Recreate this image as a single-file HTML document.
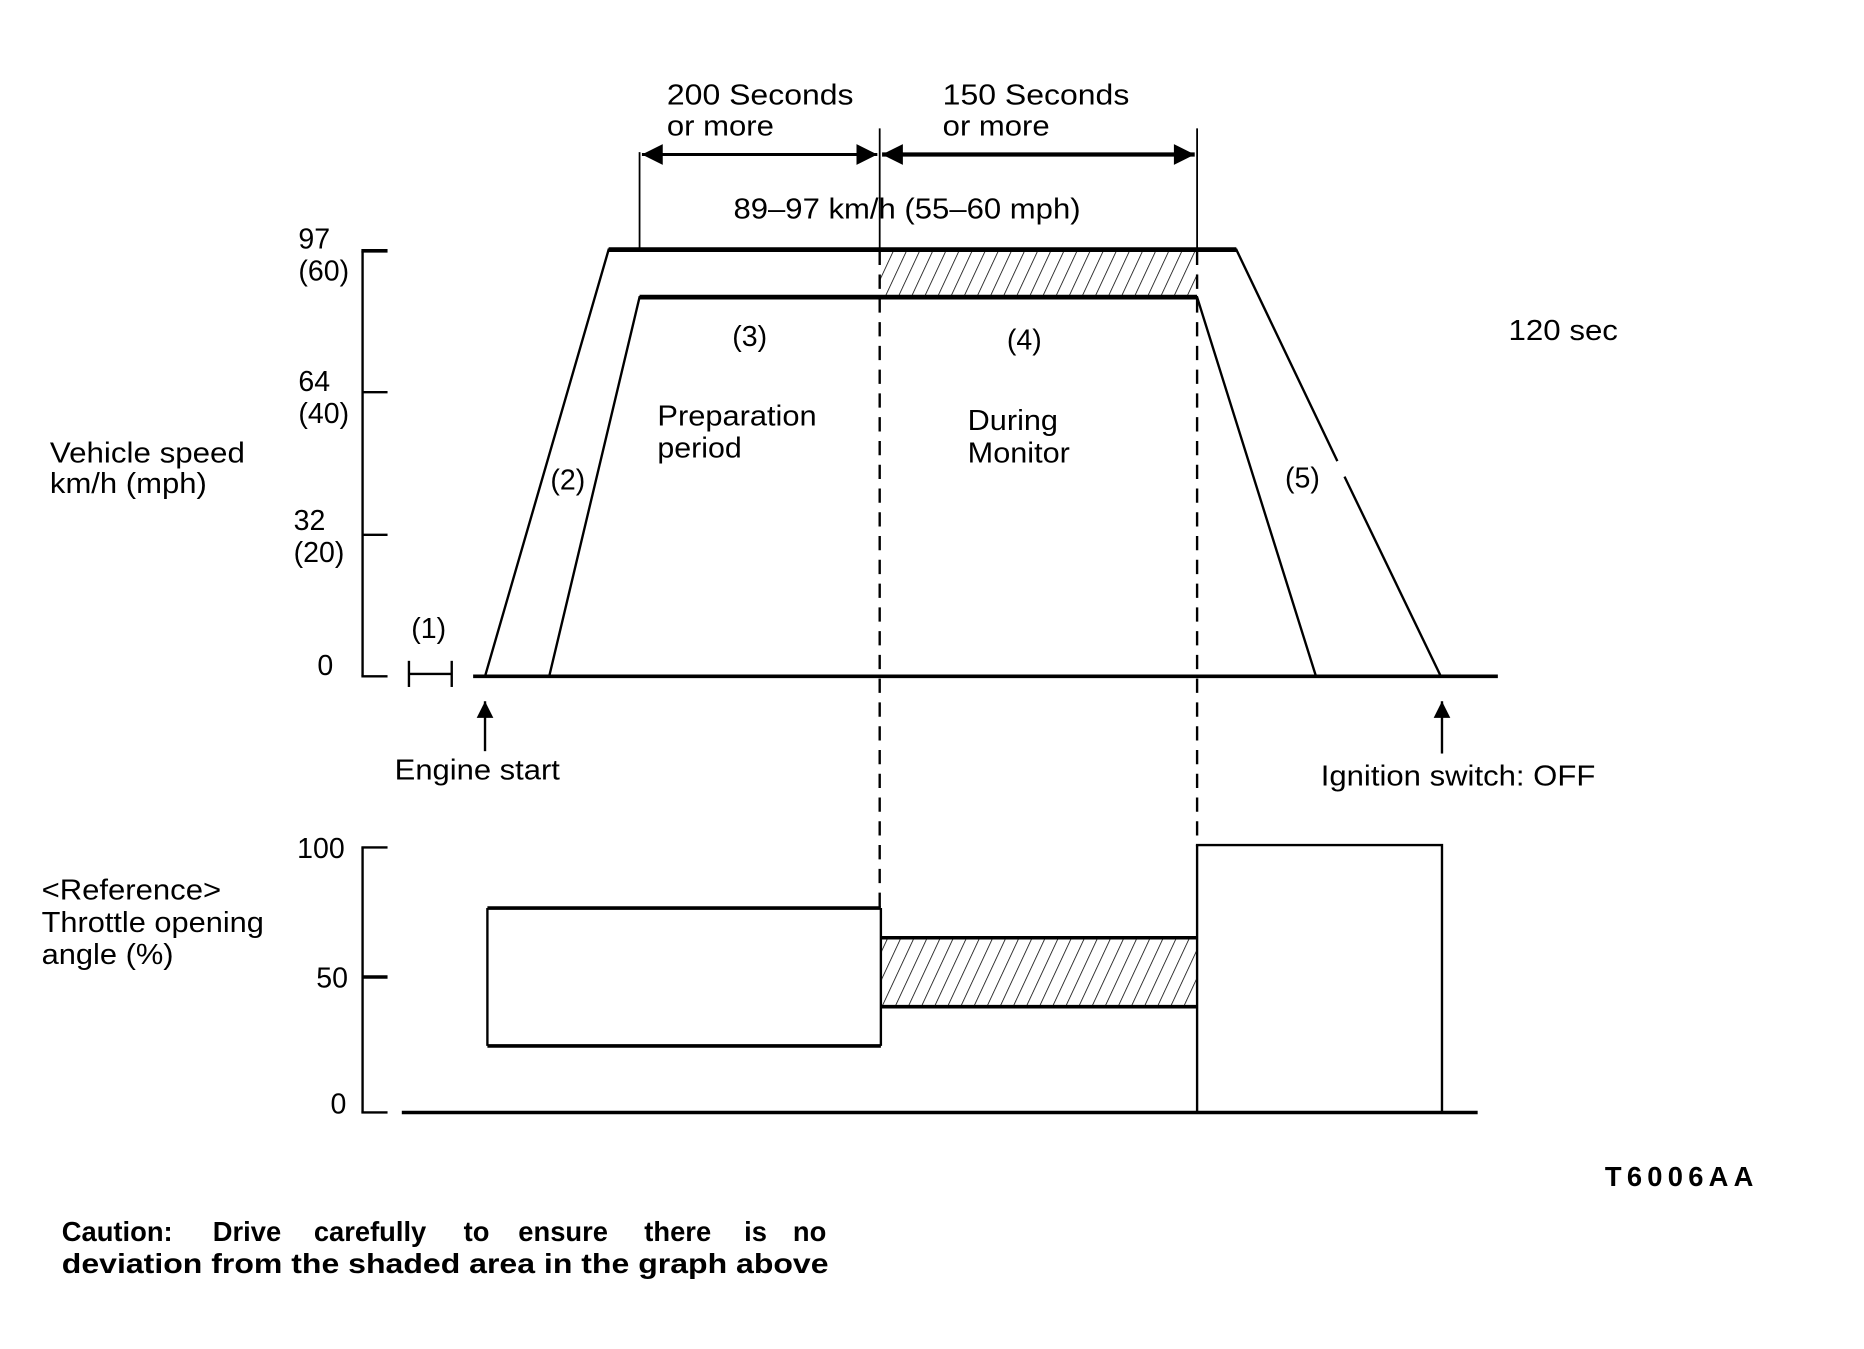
<!DOCTYPE html>
<html><head><meta charset="utf-8"><style>
html,body{margin:0;padding:0;background:#fff;}
svg{display:block;}
text{font-family:"Liberation Sans",Arial,sans-serif;font-size:24px;fill:#000;}
.b{font-weight:bold;font-size:23px;}
</style></head><body>
<svg width="1864" height="1349" viewBox="0 0 1568 1135" preserveAspectRatio="none" xmlns="http://www.w3.org/2000/svg">
<defs>
<pattern id="h" patternUnits="userSpaceOnUse" width="10" height="10" patternTransform="rotate(25)">
<line x1="0" y1="0" x2="0" y2="10" stroke="#000" stroke-width="1.3"/>
</pattern>
<marker id="a" viewBox="0 0 10 10" refX="10" refY="5" markerWidth="6" markerHeight="5" orient="auto-start-reverse"><path d="M0,0L10,5L0,10z"/></marker>
<marker id="b" viewBox="0 0 10 10" refX="10" refY="5" markerWidth="9" markerHeight="7" orient="auto-start-reverse"><path d="M0,0L10,5L0,10z"/></marker>
</defs>
<g stroke="#000" fill="none">
<line x1="305" y1="211" x2="305" y2="569" stroke-width="2"/>
<line x1="304" y1="211" x2="326" y2="211" stroke-width="3"/>
<line x1="305" y1="330" x2="326" y2="330" stroke-width="2"/>
<line x1="305" y1="450" x2="326" y2="450" stroke-width="2"/>
<line x1="304" y1="569" x2="326" y2="569" stroke-width="2"/>
<line x1="398" y1="569" x2="1260" y2="569" stroke-width="3"/>
<line x1="344" y1="556" x2="344" y2="578" stroke-width="2"/>
<line x1="380" y1="556" x2="380" y2="578" stroke-width="2"/>
<line x1="344" y1="567" x2="380" y2="567" stroke-width="2"/>
<rect x="740" y="211" width="267" height="39" fill="url(#h)" stroke="none"/>
<polyline points="408,569 512,210 1040,210 1125,388" stroke-width="2"/>
<line x1="1131" y1="401" x2="1212" y2="569" stroke-width="2"/>
<line x1="512" y1="210" x2="1040" y2="210" stroke-width="4"/>
<polyline points="462,569 538,250 1007,250 1107,569" stroke-width="2"/>
<line x1="538" y1="250" x2="1007" y2="250" stroke-width="4"/>
<line x1="538" y1="128" x2="538" y2="210" stroke-width="1.5"/>
<line x1="740" y1="108" x2="740" y2="211" stroke-width="1.5"/>
<line x1="1007" y1="108" x2="1007" y2="211" stroke-width="1.5"/>
<line x1="740" y1="211" x2="740" y2="765" stroke-width="2" stroke-dasharray="12,8"/>
<line x1="1007" y1="211" x2="1007" y2="712" stroke-width="2" stroke-dasharray="12,8"/>
<line x1="540" y1="130" x2="738" y2="130" stroke-width="2.5" marker-start="url(#b)" marker-end="url(#b)"/>
<line x1="742" y1="130" x2="1005" y2="130" stroke-width="3.5" marker-start="url(#a)" marker-end="url(#a)"/>
<line x1="408" y1="632" x2="408" y2="590" stroke-width="2" marker-end="url(#b)"/>
<line x1="1213" y1="634" x2="1213" y2="590" stroke-width="2" marker-end="url(#b)"/>
<line x1="305" y1="713" x2="305" y2="936" stroke-width="2"/>
<line x1="304" y1="713" x2="326" y2="713" stroke-width="2"/>
<line x1="305" y1="822" x2="326" y2="822" stroke-width="3"/>
<line x1="304" y1="936" x2="326" y2="936" stroke-width="2"/>
<line x1="338" y1="936" x2="1243" y2="936" stroke-width="3"/>
<line x1="410" y1="764" x2="410" y2="880" stroke-width="2"/>
<line x1="410" y1="764" x2="741" y2="764" stroke-width="3"/>
<line x1="410" y1="880" x2="741" y2="880" stroke-width="3"/>
<line x1="741" y1="764" x2="741" y2="880" stroke-width="2"/>
<rect x="741" y="789" width="266" height="58" fill="url(#h)" stroke="none"/>
<line x1="741" y1="789" x2="1007" y2="789" stroke-width="3"/>
<line x1="741" y1="847" x2="1007" y2="847" stroke-width="3"/>
<polyline points="1007,936 1007,711 1213,711 1213,936" stroke-width="2"/>
</g>
<g>
<text x="561" y="88" textLength="157" lengthAdjust="spacingAndGlyphs">200 Seconds</text>
<text x="561" y="114" textLength="90" lengthAdjust="spacingAndGlyphs">or more</text>
<text x="793" y="88" textLength="157" lengthAdjust="spacingAndGlyphs">150 Seconds</text>
<text x="793" y="114" textLength="90" lengthAdjust="spacingAndGlyphs">or more</text>
<text x="617" y="184" textLength="292" lengthAdjust="spacingAndGlyphs">89–97 km/h (55–60 mph)</text>
<text x="251" y="209">97</text><text x="251" y="236">(60)</text>
<text x="251" y="329">64</text><text x="251" y="356">(40)</text>
<text x="247" y="446">32</text><text x="247" y="473">(20)</text>
<text x="267" y="568">0</text>
<text x="42" y="389" textLength="164" lengthAdjust="spacingAndGlyphs">Vehicle speed</text>
<text x="42" y="415" textLength="132" lengthAdjust="spacingAndGlyphs">km/h (mph)</text>
<text x="346" y="537">(1)</text>
<text x="463" y="412">(2)</text>
<text x="616" y="291">(3)</text>
<text x="847" y="294">(4)</text>
<text x="553" y="358" textLength="134" lengthAdjust="spacingAndGlyphs">Preparation</text>
<text x="553" y="385" textLength="71" lengthAdjust="spacingAndGlyphs">period</text>
<text x="814" y="362" textLength="76" lengthAdjust="spacingAndGlyphs">During</text>
<text x="814" y="389" textLength="86" lengthAdjust="spacingAndGlyphs">Monitor</text>
<text x="1081" y="410">(5)</text>
<text x="1269" y="286" textLength="92" lengthAdjust="spacingAndGlyphs">120 sec</text>
<text x="332" y="656" textLength="139" lengthAdjust="spacingAndGlyphs">Engine start</text>
<text x="1111" y="661" textLength="231" lengthAdjust="spacingAndGlyphs">Ignition switch: OFF</text>
<text x="250" y="722">100</text>
<text x="266" y="831">50</text>
<text x="278" y="937">0</text>
<text x="35" y="757" textLength="151" lengthAdjust="spacingAndGlyphs">&lt;Reference&gt;</text>
<text x="35" y="784" textLength="187" lengthAdjust="spacingAndGlyphs">Throttle opening</text>
<text x="35" y="811" textLength="111" lengthAdjust="spacingAndGlyphs">angle (%)</text>
<text x="1350" y="998" class="b" textLength="125">T6006AA</text>
<text class="b" y="1044"><tspan x="52">Caution:</tspan><tspan x="179">Drive</tspan><tspan x="264">carefully</tspan><tspan x="390">to</tspan><tspan x="436">ensure</tspan><tspan x="542">there</tspan><tspan x="626">is</tspan><tspan x="667">no</tspan></text>
<text x="52" y="1071" class="b" textLength="645" lengthAdjust="spacingAndGlyphs">deviation from the shaded area in the graph above</text>
</g>
</svg>
</body></html>
